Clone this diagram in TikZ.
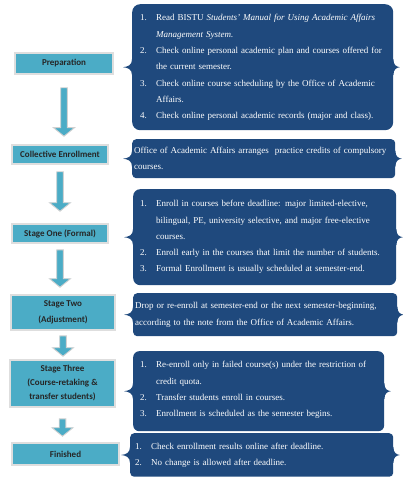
\documentclass[tikz,border=0pt]{standalone}
\usepackage{fontspec}
\setmainfont{Liberation Serif}
\newfontfamily\calib{Carlito}
\usetikzlibrary{calc}
\hyphenpenalty=10000
\exhyphenpenalty=10000
\definecolor{panelblue}{HTML}{1F497D}
\definecolor{stageteal}{HTML}{4BACC6}
\newcommand\pitem[1]{\par\hangindent=16pt\hangafter=1\noindent\makebox[16pt][l]{#1}\ignorespaces}
\newcommand\flowarrow[4]{%
  \filldraw[arrowstyle] let \p1=([yshift=-#3]#1.south), \p2=([yshift=#4]#2.north) in
  (\x1-3.3pt,\y1) -- (\x1+3.3pt,\y1) -- (\x1+3.3pt,\y2+8.5pt) -- (\x1+10.5pt,\y2+8.5pt)
  -- (\x1,\y2) -- (\x1-10.5pt,\y2+8.5pt) -- (\x1-3.3pt,\y2+8.5pt) -- cycle;}
\newcommand\notches[1]{%
  \fill[panelblue] ([xshift=1pt,yshift=8pt]#1.west) -- ([yshift=8pt]#1.west)
    .. controls ([yshift=2pt]#1.west) and ([xshift=-4pt,yshift=0.5pt]#1.west) .. ([xshift=-9pt]#1.west)
    .. controls ([xshift=-4pt,yshift=-0.5pt]#1.west) and ([yshift=-2pt]#1.west) .. ([yshift=-8pt]#1.west)
    -- ([xshift=1pt,yshift=-8pt]#1.west) -- cycle;
  \fill[panelblue] ([xshift=-1pt,yshift=8pt]#1.east) -- ([yshift=8pt]#1.east)
    .. controls ([yshift=2pt]#1.east) and ([xshift=3pt,yshift=0.5pt]#1.east) .. ([xshift=6.5pt]#1.east)
    .. controls ([xshift=3pt,yshift=-0.5pt]#1.east) and ([yshift=-2pt]#1.east) .. ([yshift=-8pt]#1.east)
    -- ([xshift=-1pt,yshift=-8pt]#1.east) -- cycle;}
\begin{document}
\begin{tikzpicture}[x=1pt,y=-1pt,
  stagebox/.style={fill=stageteal, draw=black!13, line width=1.6pt, align=center,
    font=\calib\bfseries\fontsize{9}{14}\selectfont, text=black!85, inner sep=0pt},
  panel/.style={fill=panelblue, text=white, anchor=north west, align=left, inner ysep=0pt,
    inner xsep=2pt, font=\fontsize{9}{16.3}\selectfont},
  arrowstyle/.style={fill=stageteal, draw=black!18, line width=0.9pt, line join=miter}]
\useasboundingbox (0,0) rectangle (402,478);
% left column
\node[stagebox, minimum width=98pt, minimum height=21pt] (prep) at (64,63.5) {Preparation};
\node[stagebox, minimum width=96pt, minimum height=19pt] (coll) at (60,154.5) {Collective Enrollment};
\node[stagebox, minimum width=96pt, minimum height=19pt] (one) at (60,233.5) {Stage One (Formal)};
\node[stagebox, minimum width=104pt, minimum height=35pt, font=\calib\bfseries\fontsize{9}{16}\selectfont] (two) at (63,312.5) {Stage Two\\(Adjustment)};
\node[stagebox, minimum width=105pt, minimum height=47pt] (three) at (62.5,383.5) {Stage Three\\(Course-retaking \&\\transfer students)};
\node[stagebox, minimum width=107pt, minimum height=22pt] (fin) at (65.5,454) {Finished};
\flowarrow{prep}{coll}{13pt}{8pt}
\flowarrow{coll}{one}{7pt}{12pt}
\flowarrow{one}{two}{6pt}{7pt}
\flowarrow{two}{three}{5pt}{3pt}
\flowarrow{three}{fin}{11pt}{6pt}
% right column
\node[panel, rounded corners=8pt, minimum height=126pt, text width=257pt] (p1) at (132,4) {%
\leftskip=6pt
\pitem{1.}Read BISTU \textit{Students’ Manual for Using Academic Affairs}\newline\textit{Management System.}
\pitem{2.}Check online personal academic plan and courses offered for\newline the current semester.
\pitem{3.}Check online course scheduling by the Office of Academic\newline Affairs.
\pitem{4.}Check online personal academic records (major and class).\par\vspace*{9pt}};
\node[panel, rounded corners=4pt, minimum height=39pt, text width=259pt] (p2) at (132,139) {%
\leftskip=3pt Office of Academic Affairs arranges \ practice credits of compulsory\newline courses.};
\node[panel, rounded corners=7pt, minimum height=96pt, text width=259pt] (p3) at (133,189) {%
\leftskip=5pt
\pitem{1.}Enroll in courses before deadline: major limited-elective,\newline bilingual, PE, university selective, and major free-elective\newline courses.
\pitem{2.}Enroll early in the courses that limit the number of students.
\pitem{3.}Formal Enrollment is usually scheduled at semester-end.\par\vspace*{10pt}};
\node[panel, rounded corners=4pt, minimum height=43pt, text width=260pt] (p4) at (133,293) {%
\leftskip=4pt Drop or re-enroll at semester-end or the next semester-beginning,\newline according to the note from the Office of Academic Affairs.};
\node[panel, rounded corners=6pt, minimum height=80pt, text width=247pt] (p5) at (133,351) {%
\leftskip=5pt
\pitem{1.}Re-enroll only in failed course(s) under the restriction of\newline credit quota.
\pitem{2.}Transfer students enroll in courses.
\pitem{3.}Enrollment is scheduled as the semester begins.\par\vspace*{12pt}};
\node[panel, rounded corners=4pt, minimum height=40pt, text width=259pt] (p6) at (130,433) {%
\leftskip=3pt
\pitem{1.}Check enrollment results online after deadline.
\pitem{2.}No change is allowed after deadline.\par\vspace*{9pt}};
\notches{p1}\notches{p2}\notches{p3}\notches{p4}\notches{p5}\notches{p6}
\end{tikzpicture}
\end{document}
